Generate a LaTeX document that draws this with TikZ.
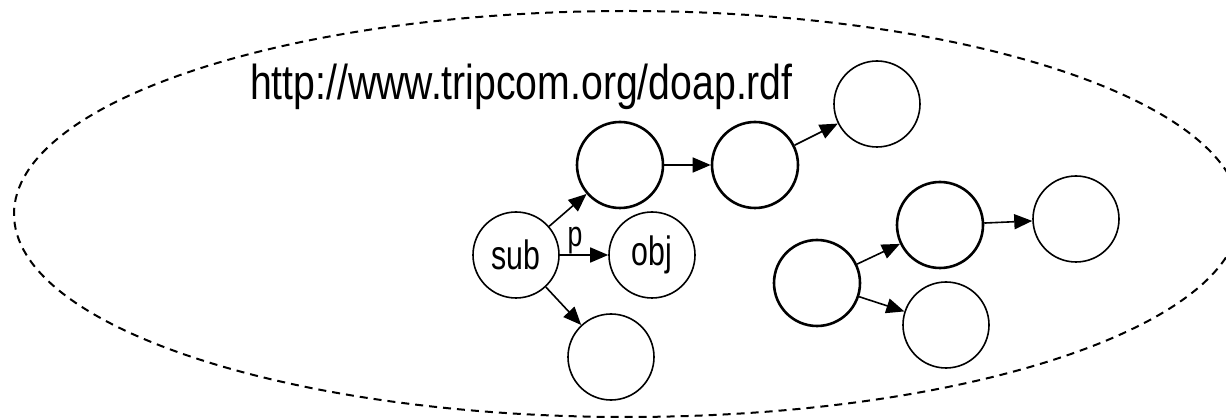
\documentclass[tikz,border=0pt]{standalone}
\usepackage{fontspec}
\usetikzlibrary{arrows.meta}
\newfontfamily\urlfont{Liberation Sans}[FakeStretch=0.80]
\newfontfamily\lblfont{Liberation Sans}[FakeStretch=0.74]
\tikzset{
  res/.style={circle, draw, line width=1.6pt, minimum size=86pt, inner sep=0pt, font=\lblfont\fontsize{41}{45}\selectfont},
  resthick/.style={res, line width=2.6pt},
  link/.style={line width=1.6pt, -{Triangle[length=18pt,width=15pt]}},
  bound/.style={line width=2pt, dash pattern=on 8pt off 6pt}
}
\begin{document}
\begin{tikzpicture}[x=1pt,y=-1pt]
\clip (0,0) rectangle (1226,419);
\draw[bound] (627,214) ellipse [x radius=613pt, y radius=203pt];
\node[anchor=base west, inner sep=0pt, font=\urlfont\fontsize{49}{53}\selectfont] (url) at (250,100) {http://www.tripcom.org/doap.rdf};
% left graph
\node[res] (sub) at (516,255) {sub};
\node[res] (obj) at (652,255) {obj};
\node[res] (bot) at (611,357) {};
\node[resthick] (tl) at (620,165) {};
\node[resthick] (mid) at (755,165) {};
\node[res] (tr) at (877,104) {};
% right graph
\node[resthick] (left) at (817,283) {};
\node[resthick] (up) at (940,225) {};
\node[res] (right) at (1076,219) {};
\node[res] (low) at (946,325) {};
% connectors
\draw[link] (sub) -- (tl);
\draw[link] (sub) -- (obj);
\draw[link] (sub) -- (bot);
\draw[link] (tl) -- (mid);
\draw[link] (mid) -- (tr);
\draw[link] (left) -- (up);
\draw[link] (left) -- (low);
\draw[link] (up) -- (right);
\node[anchor=base, inner sep=0pt, font=\lblfont\fontsize{36}{40}\selectfont] (plbl) at (575,247) {p};
\end{tikzpicture}
\end{document}
